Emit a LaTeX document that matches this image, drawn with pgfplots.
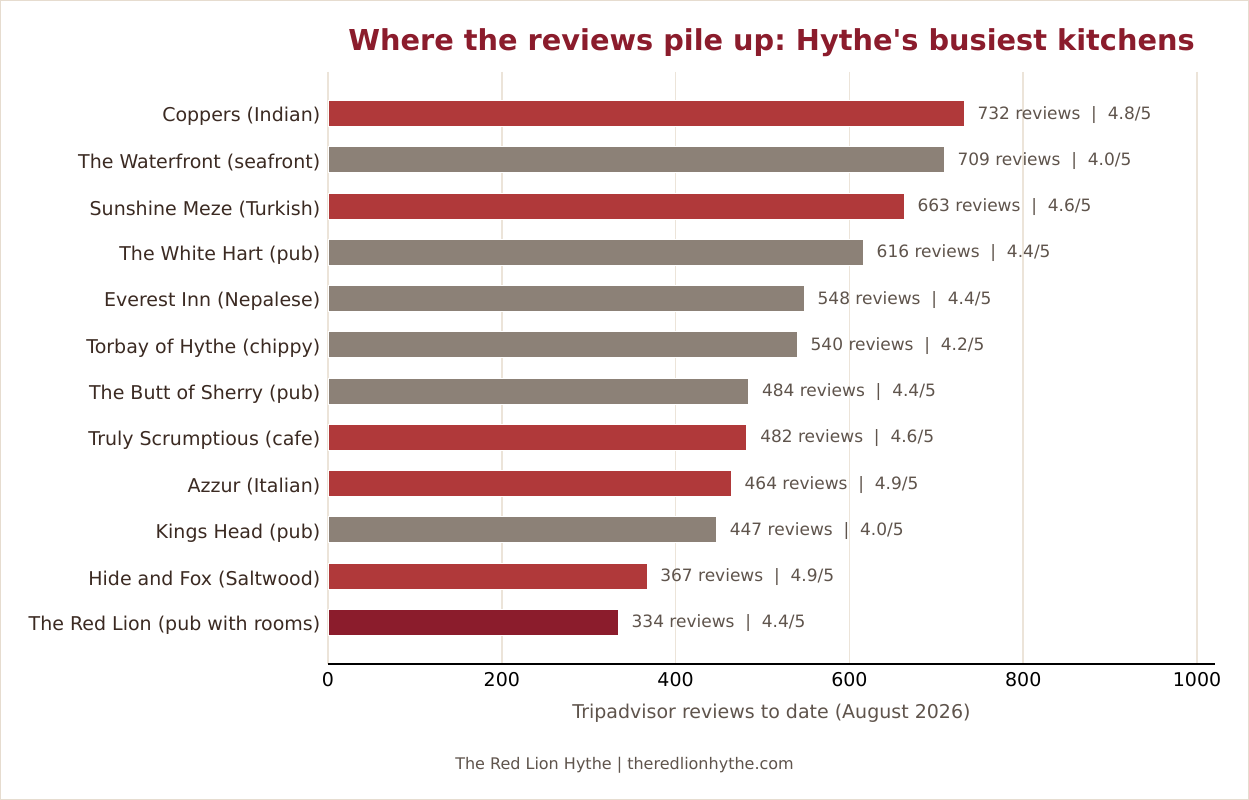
\documentclass[border=0pt]{standalone}
\usepackage{fontspec}
\setmainfont{DejaVu Sans}[Ligatures=TeXOff]
\usepackage{pgfplots}
\pgfplotsset{compat=1.18}
\definecolor{barred}{HTML}{B0393A}
\definecolor{bargray}{HTML}{8C8177}
\definecolor{bardark}{HTML}{8B1C2C}
\definecolor{titlecol}{HTML}{8B1C2C}
\definecolor{labcol}{HTML}{3B2A22}
\definecolor{anncol}{HTML}{5F544C}
\definecolor{gridcol}{HTML}{ECE4D9}
\definecolor{framecol}{HTML}{E6DCCF}
\newcommand{\sep}{\hspace{0.636em}|\hspace{0.636em}}
\frenchspacing
\begin{document}
\frenchspacing
\begin{tikzpicture}[x=1bp,y=1bp]
\path[use as bounding box] (0,0) rectangle (1249,800);
\fill[white] (0,0) rectangle (1249,800);
\draw[framecol, line width=1bp] (0.5,0.5) rectangle (1248.5,799.5);
\begin{axis}[
  at={(328bp,136bp)}, anchor=south west,
  scale only axis, width=887bp, height=592bp,
  xmin=0, xmax=1020.7, ymin=-0.9, ymax=11.9, y dir=reverse,
  xbar, bar width=26bp, bar shift=0pt,
  axis x line*=bottom, axis y line*=left,
  x axis line style={-, black, line width=1.4bp},
  y axis line style={draw=none},
  xtick={0,200,400,600,800,1000},
  xtick style={draw=none}, ytick style={draw=none},
  xmajorgrids, grid style={gridcol, line width=1.5bp},
  ytick={0,...,11},
  yticklabels={Coppers (Indian), The Waterfront (seafront), Sunshine Meze (Turkish), The White Hart (pub), Everest Inn (Nepalese), Torbay of Hythe (chippy), The Butt of Sherry (pub), Truly Scrumptious (cafe), Azzur (Italian), Kings Head (pub), Hide and Fox (Saltwood), The Red Lion (pub with rooms)},
  /pgf/number format/assume math mode=true,
  /pgf/number format/1000 sep={},
  xticklabel style={font=\fontsize{19bp}{22bp}\selectfont, text=black, yshift=-5bp},
  yticklabel style={font=\fontsize{19bp}{22bp}\selectfont, text=labcol, yshift=-3bp},
  point meta=explicit symbolic,
  nodes near coords={\pgfplotspointmeta},
  nodes near coords style={anchor=west, inner sep=0pt, xshift=13bp, yshift=-1bp, font=\fontsize{17bp}{20bp}\selectfont, text=anncol},
  clip=false,
]
\addplot[fill=barred, draw=white, line width=0.8bp] coordinates {
  (732,0) [732 reviews\sep 4.8/5]
  (663,2) [663 reviews\sep 4.6/5]
  (482,7) [482 reviews\sep 4.6/5]
  (464,8) [464 reviews\sep 4.9/5]
  (367,10) [367 reviews\sep 4.9/5]
};
\addplot[fill=bargray, draw=white, line width=0.8bp] coordinates {
  (709,1) [709 reviews\sep 4.0/5]
  (616,3) [616 reviews\sep 4.4/5]
  (548,4) [548 reviews\sep 4.4/5]
  (540,5) [540 reviews\sep 4.2/5]
  (484,6) [484 reviews\sep 4.4/5]
  (447,9) [447 reviews\sep 4.0/5]
};
\addplot[fill=bardark, draw=white, line width=0.8bp] coordinates {
  (334,11) [334 reviews\sep 4.4/5]
};
\end{axis}
\node[font=\fontsize{28.8bp}{34bp}\selectfont\bfseries, text=titlecol] at (771.5,757) {Where the reviews pile up: Hythe's busiest kitchens};
\node[font=\fontsize{19bp}{22bp}\selectfont, text=anncol] at (771.5,87) {Tripadvisor reviews to date (August 2026)};
\node[font=\fontsize{16bp}{19bp}\selectfont, text=anncol] at (624.5,35) {The Red Lion Hythe | theredlionhythe.com};
\end{tikzpicture}
\end{document}
